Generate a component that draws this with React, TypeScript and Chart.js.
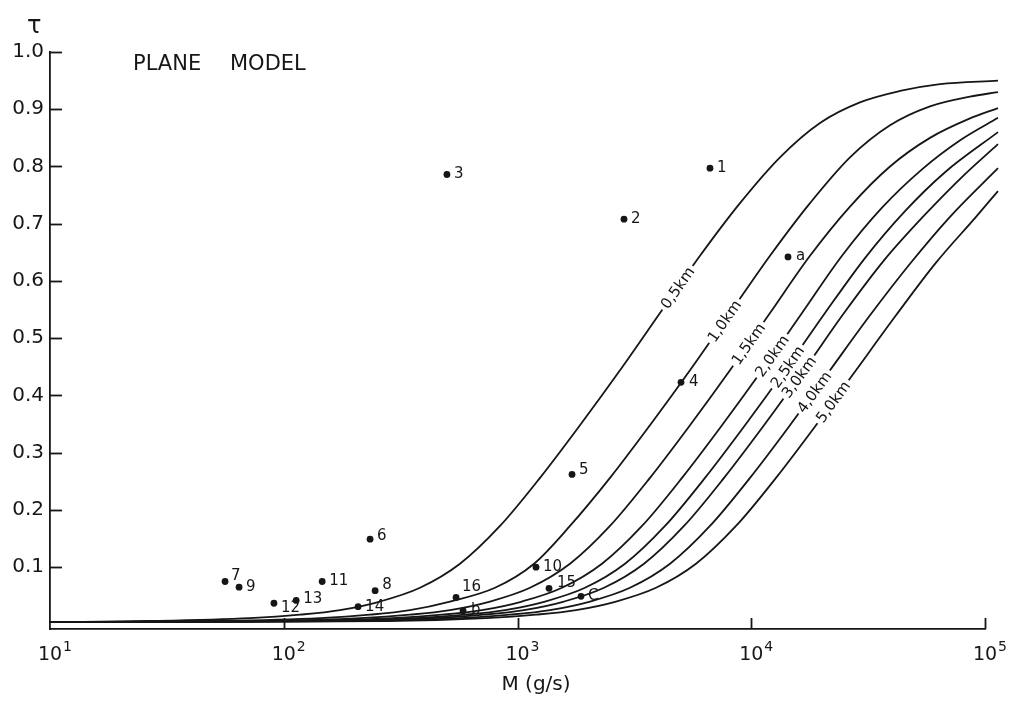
import React, { useEffect, useRef } from 'react';
import { Chart, registerables } from 'chart.js';

Chart.register(...registerables);

// ---------- data ----------
const curveLabels = ['0,5km', '1,0km', '1,5km', '2,0km', '2,5km', '3,0km', '4,0km', '5,0km'];

const m05 = [10, 26.8, 71.7, 117.4, 174, 258, 382.7, 567.5, 841.6, 1248, 1850, 2745, 4070, 6036, 8951, 13273, 19685, 29160, 43290, 64200, 113650];
const tau05 = [0.004, 0.006, 0.011, 0.017, 0.025, 0.040, 0.064, 0.106, 0.172, 0.256, 0.348, 0.444, 0.544, 0.644, 0.736, 0.816, 0.876, 0.912, 0.932, 0.944, 0.950];

const m10 = [10, 53.4, 143, 233.9, 346.7, 514.3, 801.3, 1177, 1677, 2487, 3687, 5470, 8111, 12028, 17838, 26450, 39230, 58170, 86260, 113650];
const tau10 = [0.004, 0.006, 0.011, 0.017, 0.025, 0.040, 0.064, 0.106, 0.172, 0.256, 0.348, 0.444, 0.544, 0.644, 0.736, 0.816, 0.872, 0.905, 0.922, 0.930];

const m15 = [10, 79.1, 211.9, 346.7, 514.3, 762.7, 1131, 1677, 2487, 3687, 5470, 8111, 12028, 17838, 26450, 39230, 58170, 86260, 113650];
const tau15 = [0.004, 0.006, 0.011, 0.017, 0.025, 0.040, 0.064, 0.106, 0.172, 0.256, 0.348, 0.444, 0.544, 0.644, 0.730, 0.800, 0.850, 0.884, 0.902];

const m20 = [10, 108.5, 290.5, 475.3, 704.9, 1045, 1550, 2298, 3409, 5055, 7497, 11117, 16488, 24450, 36260, 53760, 79730, 113650];
const tau20 = [0.004, 0.006, 0.011, 0.017, 0.025, 0.040, 0.064, 0.106, 0.172, 0.256, 0.348, 0.444, 0.544, 0.644, 0.728, 0.795, 0.848, 0.885];

const m25 = [10, 136.1, 364.3, 596.3, 884, 1311, 1944, 2883, 4276, 6340, 9404, 13947, 20680, 30660, 45480, 67440, 113650];
const tau25 = [0.004, 0.006, 0.011, 0.017, 0.025, 0.040, 0.064, 0.106, 0.172, 0.256, 0.348, 0.444, 0.544, 0.640, 0.722, 0.790, 0.860];

const m30 = [10, 164, 439.3, 718.9, 1066, 1581, 2345, 3477, 5156, 7646, 11338, 16796, 24940, 36980, 54830, 81310, 113650];
const tau30 = [0.004, 0.006, 0.011, 0.017, 0.025, 0.040, 0.064, 0.106, 0.172, 0.256, 0.348, 0.444, 0.544, 0.636, 0.714, 0.785, 0.839];

const m40 = [10, 211.9, 567.5, 928.8, 1377, 2043, 3029, 4492, 6660, 9878, 14650, 21722, 32220, 47770, 70840, 113650];
const tau40 = [0.004, 0.006, 0.011, 0.017, 0.025, 0.040, 0.064, 0.106, 0.172, 0.256, 0.348, 0.444, 0.540, 0.630, 0.712, 0.797];

const m50 = [10, 273.8, 733.1, 1200, 1779, 2639, 3913, 5802, 8605, 12760, 18923, 28060, 41620, 61720, 91530, 113650];
const tau50 = [0.004, 0.006, 0.011, 0.017, 0.025, 0.040, 0.064, 0.106, 0.172, 0.256, 0.348, 0.444, 0.540, 0.632, 0.712, 0.757];

const pointLabels = ['1', '2', '3', '4', '5', '6', '7', '8', '9', '10', '11', '12', '13', '14', '15', '16', 'a', 'b', 'C'];
const pointM = [6660, 2855, 499, 5006, 1711, 234, 56.1, 246, 64.4, 1200, 146, 90.8, 113, 208, 1364, 546, 14365, 585, 1869];
const pointTau = [0.797, 0.708, 0.786, 0.423, 0.262, 0.149, 0.075, 0.059, 0.065, 0.100, 0.075, 0.037, 0.042, 0.031, 0.063, 0.047, 0.642, 0.024, 0.049];

const yTickValues = [0.1, 0.2, 0.3, 0.4, 0.5, 0.6, 0.7, 0.8, 0.9, 1.0];
const xTickValues = [10, 100, 1000, 10000, 100000];
const xTickExponents = ['1', '2', '3', '4', '5'];

// ---------- styling ----------
const INK = '#161616';
const FONT = '"DejaVu Sans", "Liberation Sans", sans-serif';
const curveLabelTau = [0.588, 0.53, 0.49, 0.469, 0.45, 0.432, 0.406, 0.389];
const pointLabelShift: Record<string, [number, number]> = {
  '1': [0, 0], '2': [0, 0], '3': [0, 0], '4': [1, 0], '5': [0, -4], '6': [0, -3],
  '7': [-1, -5], '8': [0, -6], '9': [0, 0], '10': [0, 0], '11': [0, 0], '12': [0, 5],
  '13': [0, -1], '14': [0, 0], '15': [1, -5], '16': [-1, -10], 'a': [1, -1], 'b': [1, -1], 'C': [0, 0],
};

const curveMs = [m05, m10, m15, m20, m25, m30, m40, m50];
const curveTaus = [tau05, tau10, tau15, tau20, tau25, tau30, tau40, tau50];

const decorPlugin = {
  id: 'decor',
  beforeDraw(chart: any) {
    const ctx = chart.ctx;
    ctx.save();
    ctx.fillStyle = '#ffffff';
    ctx.fillRect(0, 0, chart.width, chart.height);
    ctx.restore();
  },
  afterDatasetsDraw(chart: any) {
    const ctx = chart.ctx;
    const ys = chart.scales.y;
    // curve labels along the lines
    ctx.save();
    ctx.font = `15px ${FONT}`;
    ctx.textAlign = 'center';
    ctx.textBaseline = 'middle';
    curveLabels.forEach((lab, i) => {
      const pts = chart.getDatasetMeta(i).data;
      const py = ys.getPixelForValue(curveLabelTau[i]);
      for (let j = 0; j < pts.length - 1; j++) {
        const a = pts[j];
        const b = pts[j + 1];
        if (a.y >= py && b.y <= py) {
          const t = (a.y - py) / (a.y - b.y || 1);
          const px = a.x + t * (b.x - a.x);
          const ang = Math.atan2(b.y - a.y, b.x - a.x);
          ctx.save();
          ctx.translate(px, py);
          ctx.rotate(ang);
          const w = ctx.measureText(lab).width;
          ctx.fillStyle = '#ffffff';
          ctx.fillRect(-w / 2 - 3, -6, w + 6, 12);
          ctx.fillStyle = INK;
          ctx.fillText(lab, 0, 1);
          ctx.restore();
          break;
        }
      }
    });
    ctx.restore();

    // point labels
    const meta = chart.getDatasetMeta(curveLabels.length);
    ctx.save();
    ctx.font = `15px ${FONT}`;
    ctx.fillStyle = INK;
    ctx.textAlign = 'left';
    ctx.textBaseline = 'middle';
    meta.data.forEach((p: any, k: number) => {
      const lab = pointLabels[k];
      const s = pointLabelShift[lab] || [0, 0];
      ctx.fillText(lab, p.x + 7 + s[0], p.y + s[1]);
    });
    ctx.restore();
  },
  afterDraw(chart: any) {
    const ctx = chart.ctx;
    const xs = chart.scales.x;
    const ys = chart.scales.y;
    const area = chart.chartArea;
    ctx.save();
    ctx.strokeStyle = INK;
    ctx.lineWidth = 1.8;
    // inward y ticks
    yTickValues.forEach((v) => {
      const y = Math.round(ys.getPixelForValue(v)) + 0.5;
      ctx.beginPath();
      ctx.moveTo(area.left, y);
      ctx.lineTo(area.left + 12, y);
      ctx.stroke();
    });
    // inward x ticks
    xTickValues.slice(1).forEach((v) => {
      const x = Math.round(xs.getPixelForValue(v)) + 0.5;
      ctx.beginPath();
      ctx.moveTo(x, area.bottom);
      ctx.lineTo(x, area.bottom - 11);
      ctx.stroke();
    });
    // x tick labels 10^n
    ctx.fillStyle = INK;
    ctx.textBaseline = 'alphabetic';
    xTickValues.forEach((v, i) => {
      const x = xs.getPixelForValue(v);
      ctx.font = `19px ${FONT}`;
      ctx.textAlign = 'center';
      const w = ctx.measureText('10').width;
      ctx.fillText('10', x, 660);
      ctx.font = `14px ${FONT}`;
      ctx.textAlign = 'left';
      ctx.fillText(xTickExponents[i], x + w / 2 + 1, 651);
    });
    // axis titles
    ctx.font = `24px ${FONT}`;
    ctx.textAlign = 'left';
    ctx.fillText('τ', 27, 33);
    ctx.font = `21px ${FONT}`;
    ctx.fillText('PLANE', 133, 70);
    ctx.fillText('MODEL', 230, 70);
    ctx.font = `20px ${FONT}`;
    ctx.textAlign = 'center';
    ctx.fillText('M (g/s)', 536, 690);
    ctx.restore();
  },
};

export default function App() {
  const ref = useRef<HTMLCanvasElement | null>(null);

  useEffect(() => {
    if (!ref.current) return;
    const curveSets = curveLabels.map((lab, i) => ({
      label: lab,
      data: curveMs[i].map((m, k) => ({ x: m, y: curveTaus[i][k] })),
      borderColor: INK,
      borderWidth: 1.8,
      pointRadius: 0,
      fill: false,
      cubicInterpolationMode: 'monotone' as const,
      clip: false as const,
      order: 2,
    }));
    const dots = {
      label: 'points',
      data: pointM.map((m, k) => ({ x: m, y: pointTau[k] })),
      showLine: false,
      pointRadius: 3.4,
      pointBackgroundColor: INK,
      pointBorderWidth: 0,
      borderColor: INK,
      order: 1,
    };
    const chart = new Chart(ref.current, {
      type: 'line',
      data: { datasets: [...curveSets, dots] as any },
      options: {
        responsive: false,
        animation: false,
        layout: { padding: { top: 52, right: 25, left: 0, bottom: 0 } },
        plugins: { legend: { display: false }, tooltip: { enabled: false } },
        scales: {
          x: {
            type: 'logarithmic',
            min: 10,
            max: 100000,
            grid: { display: false, drawTicks: false },
            border: { display: true, color: INK, width: 1.8 },
            ticks: { display: false },
            afterFit: (s: any) => { s.height = 74; },
          },
          y: {
            type: 'linear',
            min: -0.008,
            max: 1.0,
            grid: { display: false, drawTicks: false },
            border: { display: true, color: INK, width: 1.8 },
            afterBuildTicks: (s: any) => { s.ticks = yTickValues.map((v) => ({ value: v })); },
            ticks: {
              autoSkip: false,
              padding: 6,
              color: INK,
              font: { family: FONT, size: 20 },
              callback: (v: any) => Number(v).toFixed(1),
            },
            afterFit: (s: any) => { s.width = 50; },
          },
        },
      } as any,
      plugins: [decorPlugin],
    });
    return () => chart.destroy();
  }, []);

  return (
    <div style={{ position: 'fixed', left: 0, top: 0, width: 1010, height: 703, background: '#ffffff' }}>
      <canvas ref={ref} width={1010} height={703} style={{ display: 'block' }} />
    </div>
  );
}
